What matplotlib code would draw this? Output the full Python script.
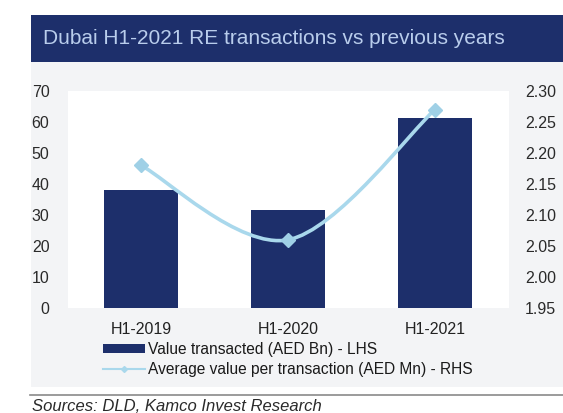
import matplotlib
matplotlib.use("Agg")
import matplotlib.pyplot as plt
from matplotlib.patches import Rectangle, PathPatch
from matplotlib.path import Path
from matplotlib.lines import Line2D
from matplotlib.patches import Patch

plt.rcParams['font.family'] = ['Liberation Sans', 'DejaVu Sans']

# ---- data ----
categories = ["H1-2019", "H1-2020", "H1-2021"]
value_transacted = [38.1, 31.6, 61.4]      # AED Bn (LHS)
avg_value = [2.18, 2.06, 2.27]             # AED Mn (RHS)
left_ticks = [0, 10, 20, 30, 40, 50, 60, 70]
right_ticks = [1.95, 2.00, 2.05, 2.10, 2.15, 2.20, 2.25, 2.30]
title = "Dubai H1-2021 RE transactions vs previous years"
legend_labels = ["Value transacted (AED Bn) - LHS",
                 "Average value per transaction (AED Mn) - RHS"]
source = "Sources: DLD, Kamco Invest Research"

NAVY = "#1d2f6b"
LIGHT = "#a9d8ec"
MARK = "#9fd0e6"
TXT = "#2a2a2a"

W, H = 563, 413
fig = plt.figure(figsize=(W / 100, H / 100), dpi=100)
fig.patch.set_facecolor("white")

def fx(px):
    return px / W

def fy(py):
    return 1 - py / H

# chart background (light gray)
fig.patches.append(Rectangle((fx(30.7), fy(387)), 1 - fx(30.7), fy(62) - fy(387),
                             transform=fig.transFigure, facecolor="#f3f4f6",
                             edgecolor="none", zorder=-2))
# title banner
fig.patches.append(Rectangle((fx(30.7), fy(61.7)), 1 - fx(30.7), fy(15) - fy(61.7),
                             transform=fig.transFigure, facecolor=NAVY,
                             edgecolor="none", zorder=-1))
fig.text(fx(43), fy(39), title, color="#b9cdec", fontsize=15,
         va="center", ha="left", zorder=2)

# main axes
ax = fig.add_axes([fx(67.5), fy(308), fx(508.5) - fx(67.5), fy(91) - fy(308)])
ax.set_facecolor("white")
x = list(range(len(categories)))
ax.bar(x, value_transacted, width=0.5, color=NAVY, zorder=2)
ax.set_xlim(-0.5, 2.5)
ax.set_ylim(0, 70)
ax.set_yticks(left_ticks)
ax.set_yticklabels([str(t) for t in left_ticks])
ax.set_xticks(x)
ax.set_xticklabels(categories)
for s in ax.spines.values():
    s.set_visible(False)
ax.tick_params(axis="y", length=0, pad=13, labelsize=11.5, labelcolor=TXT)
ax.tick_params(axis="x", length=0, pad=10, labelsize=11.5, labelcolor="#222222")

ax2 = ax.twinx()
ax2.set_ylim(1.95, 2.30)
ax2.set_yticks(right_ticks)
ax2.set_yticklabels([f"{t:.2f}" for t in right_ticks])
for s in ax2.spines.values():
    s.set_visible(False)
ax2.tick_params(axis="y", length=0, pad=12, labelsize=11.5, labelcolor=TXT)

# smoothed line (Catmull-Rom -> cubic Bezier through the data points)
pts = list(zip(x, avg_value))
n = len(pts)
verts = [pts[0]]
codes = [Path.MOVETO]
for i in range(n - 1):
    p0 = pts[i - 1] if i > 0 else pts[i]
    p1 = pts[i]
    p2 = pts[i + 1]
    p3 = pts[i + 2] if i + 2 < n else pts[i + 1]
    c1 = (p1[0] + (p2[0] - p0[0]) / 6, p1[1] + (p2[1] - p0[1]) / 6)
    c2 = (p2[0] - (p3[0] - p1[0]) / 6, p2[1] - (p3[1] - p1[1]) / 6)
    verts += [c1, c2, p2]
    codes += [Path.CURVE4] * 3
ax2.add_patch(PathPatch(Path(verts, codes), fill=False, edgecolor=LIGHT,
                        linewidth=2.6, capstyle="round", zorder=3))
ax2.plot(x, avg_value, linestyle="none", marker="D", markersize=7,
         color=MARK, zorder=4)

# legend
handles = [Patch(facecolor=NAVY, edgecolor="none"),
           Line2D([], [], color=LIGHT, linewidth=1.5, marker="D",
                  markersize=3, markerfacecolor=LIGHT)]
fig.legend(handles, legend_labels, loc="upper left",
           bbox_to_anchor=(fx(103), fy(342)), frameon=False,
           fontsize=11.2, handlelength=2.7, handleheight=0.5,
           handletextpad=0.2, labelspacing=0.35, borderpad=0,
           borderaxespad=0, labelcolor="#1a1a1a")

# separator and source
fig.add_artist(Line2D([fx(30), 1], [fy(395), fy(395)], transform=fig.transFigure,
                      color="#8a8a8a", linewidth=1.2))
fig.text(fx(32), fy(411), source, fontsize=12, style="italic", color=TXT,
         ha="left", va="baseline")

fig.savefig("out.png", dpi=100)
